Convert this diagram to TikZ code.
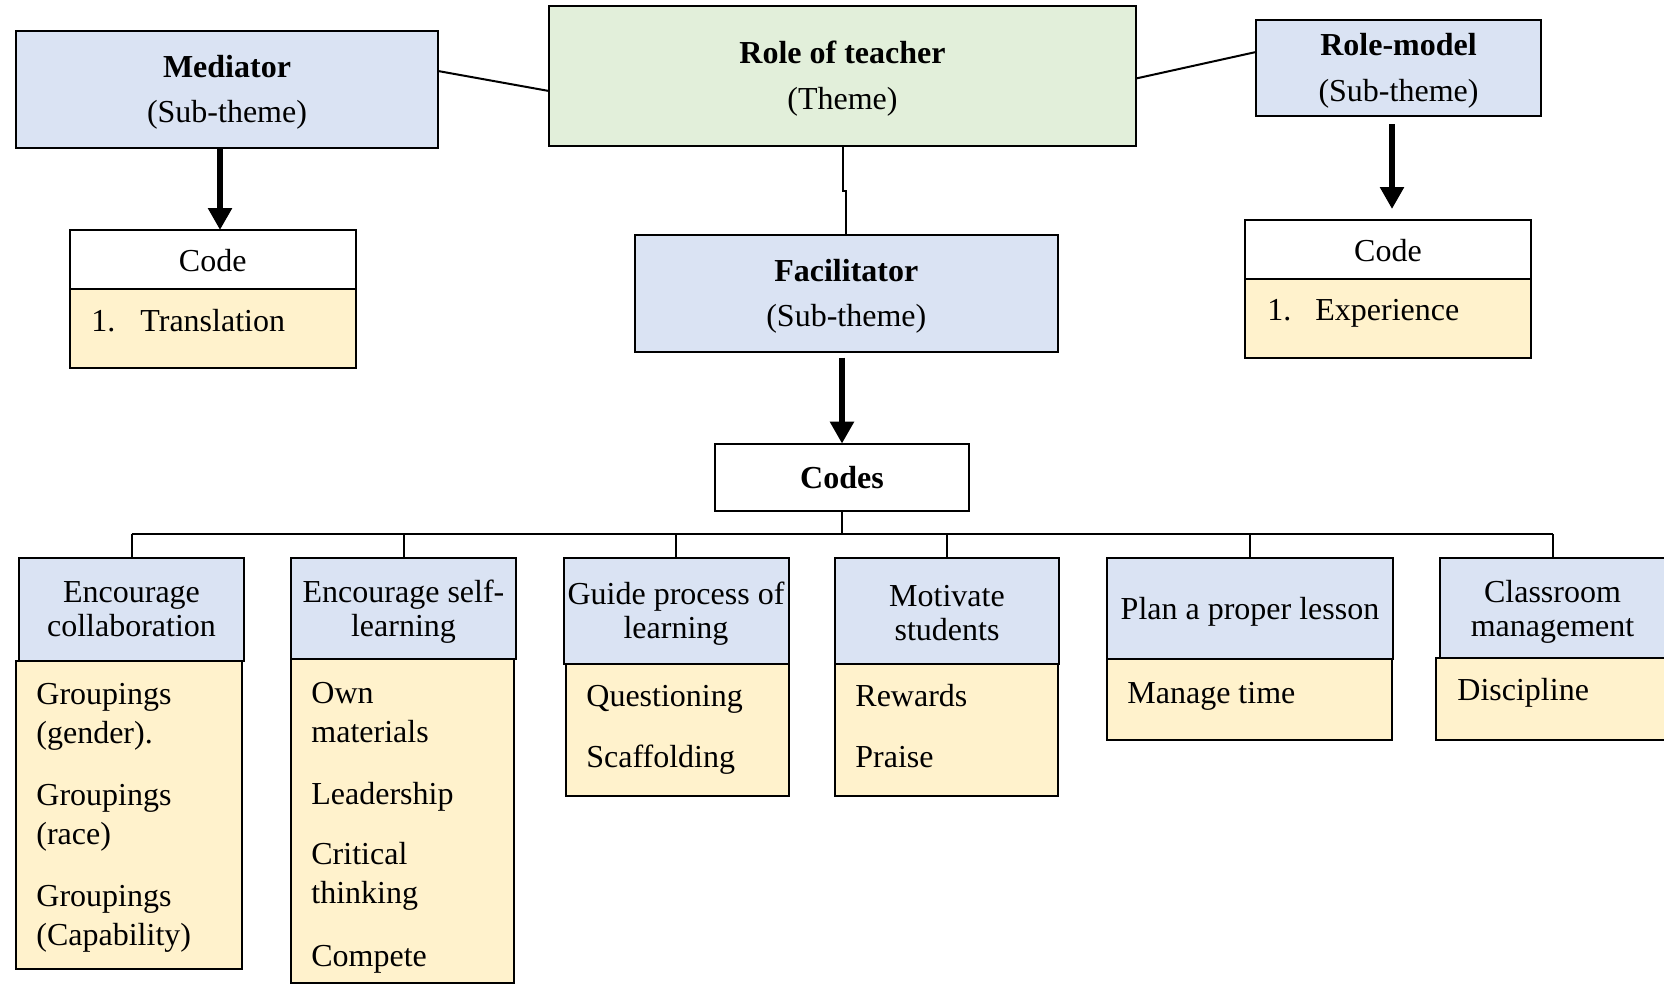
\documentclass[tikz,border=0pt]{standalone}
\usepackage{fontspec}
\setmainfont{Liberation Serif}
\usetikzlibrary{arrows.meta}
\definecolor{subblue}{HTML}{DAE3F3}
\definecolor{themegreen}{HTML}{E2EFDA}
\definecolor{codeyellow}{HTML}{FFF2CC}
% taller first line, so that the text sits a little lower in its box
\newcommand\firstlinestrut{\rule{0pt}{14pt}}
\begin{document}
\begin{tikzpicture}[x=0.5pt,y=-0.5pt,
  box/.style={draw, line width=1pt, inner sep=0pt, outer sep=0pt, anchor=north west},
  topbox/.style={box, align=center, font=\fontsize{16}{22.75}\selectfont},
  sub/.style={topbox, fill=subblue},
  theme/.style={topbox, fill=themegreen},
  codehead/.style={box, fill=white, font=\fontsize{16}{19}\selectfont},
  codebody/.style={box, fill=codeyellow},
  hdr/.style={box, fill=subblue, align=center, font=\fontsize{16}{17}\selectfont},
  item/.style={anchor=mid west, inner sep=0pt, font=\fontsize{16}{19}\selectfont},
  link/.style={line width=1pt},
  arr/.style={line width=3pt, -{Triangle[length=11pt,width=11.5pt]}}]
\useasboundingbox (0,0) rectangle (1664,985);
\clip (0,0) rectangle (1664,985);
\fill[white] (0,0) rectangle (1664,985);

% theme and sub-themes
\node[theme, minimum width=293.5pt, minimum height=70pt] (T) at (549,6) {\firstlinestrut\textbf{Role of teacher}\\(Theme)};
\node[sub, minimum width=211pt, minimum height=58.5pt] (M) at (16,31) {\firstlinestrut\textbf{Mediator}\\(Sub-theme)};
\node[sub, minimum width=142.5pt, minimum height=48pt] (R) at (1256,20) {\firstlinestrut\textbf{Role-model}\\(Sub-theme)};
\node[sub, minimum width=211.7pt, minimum height=58.75pt] (F) at (634.6,234.5) {\firstlinestrut\textbf{Facilitator}\\(Sub-theme)};

% code boxes of the side sub-themes
\node[codehead, minimum width=142.75pt, minimum height=29.5pt] (C1) at (70,230) {\rule{0pt}{12.5pt}Code};
\node[codebody, minimum width=142.75pt, minimum height=39.5pt] (C1b) at (70,289) {};
\node[item] (c1n) at (91,326.5) {1.\hspace{12.5pt}Translation};
\node[codehead, minimum width=143pt, minimum height=29.5pt] (C2) at (1245,220) {\rule{0pt}{12pt}Code};
\node[codebody, minimum width=143pt, minimum height=39.5pt] (C2b) at (1245,279) {};
\node[item] (c2n) at (1267,316) {1.\hspace{12pt}Experience};

% codes of the facilitator
\node[box, fill=white, minimum width=127pt, minimum height=33.5pt, font=\fontsize{16}{19}\selectfont] (K) at (715,443.6) {\textbf{Codes}};

\node[hdr, minimum width=112.5pt, minimum height=51.5pt] (H1) at (19,558) {Encourage\\collaboration};
\node[codebody, minimum width=113pt, minimum height=154pt] (B1) at (16,661) {};
\node[hdr, minimum width=112.5pt, minimum height=50.5pt] (H2) at (291,558) {\firstlinestrut Encourage self-\\learning};
\node[codebody, minimum width=111.3pt, minimum height=162pt] (B2) at (291,659) {};
\node[hdr, minimum width=112.5pt, minimum height=53pt] (H3) at (563.5,558) {\firstlinestrut Guide process of\\learning};
\node[codebody, minimum width=111.5pt, minimum height=66pt] (B3) at (565.6,664) {};
\node[hdr, minimum width=112pt, minimum height=53pt] (H4) at (835,558) {\rule{0pt}{12.5pt}Motivate\\students};
\node[codebody, minimum width=111.5pt, minimum height=66pt] (B4) at (835,664) {};
\node[hdr, minimum width=143pt, minimum height=50.5pt] (H5) at (1107,558) {\firstlinestrut Plan a proper lesson};
\node[codebody, minimum width=142.5pt, minimum height=40.5pt] (B5) at (1107,659) {};
\node[hdr, minimum width=112.5pt, minimum height=50pt] (H6) at (1440,558) {\rule{0pt}{15pt}Classroom\\management};
\node[codebody, minimum width=115pt, minimum height=41pt] (B6) at (1436,658) {};

% code texts
\node[item] (a1) at (36,700) {Groupings};
\node[item] (a2) at (36,739) {(gender).};
\node[item] (a3) at (36,801) {Groupings};
\node[item] (a4) at (36,840) {(race)};
\node[item] (a5) at (36,902) {Groupings};
\node[item] (a6) at (36,941) {(Capability)};
\node[item] (b1) at (311,699) {Own};
\node[item] (b2) at (311,738) {materials};
\node[item] (b3) at (311,800) {Leadership};
\node[item] (b4) at (311,860) {Critical};
\node[item] (b5) at (311,899) {thinking};
\node[item] (b6) at (311,962) {Compete};
\node[item] (d1) at (586,702) {Questioning};
\node[item] (d2) at (586,763) {Scaffolding};
\node[item] (e1) at (855,702) {Rewards};
\node[item] (e2) at (855,763) {Praise};
\node[item] (f1) at (1127,699) {Manage time};
\node[item] (g1) at (1457,696) {Discipline};

% connectors
\draw[link] ([yshift=9.25pt]M.east) -- ([yshift=-7.5pt]T.west);
\draw[link] ([yshift=-1.25pt]T.east) -- ([yshift=8pt]R.west);
\draw[link] (T.south) -- ++(0,45) -| (F.north);

\coordinate (ma) at (220,0);
\coordinate (ra) at (1392,0);
\draw[arr] (M.south -| ma) -- (C1.north -| ma);
\draw[arr, shorten <=4pt, shorten >=5.5pt] (R.south -| ra) -- (C2.north -| ra);
\draw[arr, shorten <=2.8pt] (F.south -| K.north) -- (K.north);

\coordinate (bus) at (0,534);
\draw[link] (K.south) -- (K.south |- bus);
\draw[link] (H1.north |- bus) -- (H6.north |- bus);
\foreach \h in {H1,H2,H3,H4,H5,H6}
  \draw[link] (\h.north |- bus) -- (\h.north);
\end{tikzpicture}
\end{document}
